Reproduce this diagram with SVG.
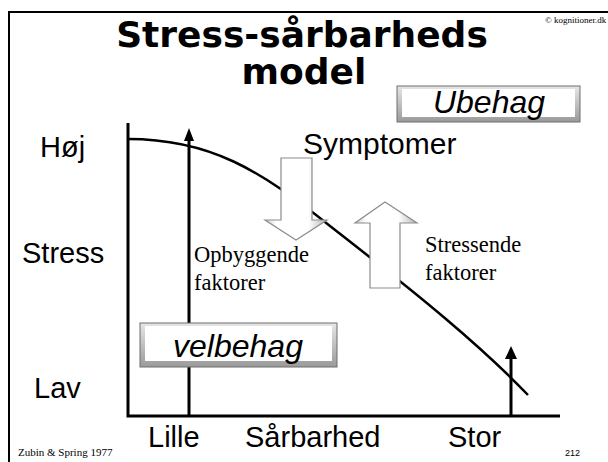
<svg xmlns="http://www.w3.org/2000/svg" width="608" height="462" viewBox="0 0 608 462">
<defs>
<style>
.sans{font-family:"Liberation Sans",Arial,sans-serif;fill:#000}
.serif{font-family:"Liberation Serif","Times New Roman",serif;fill:#000}
.title{font-family:"DejaVu Sans",Verdana,sans-serif;font-weight:bold;font-size:36px;text-anchor:middle}
.lbl{font-size:29px}
.ax{stroke:#000;stroke-width:3;fill:none}
.hollow{stroke:#8c8c8c;stroke-width:1.2;fill:url(#hg)}
</style>
<linearGradient id="hg" x1="0" y1="0" x2="1" y2="0">
<stop offset="0" stop-color="#cfcfcf"/>
<stop offset="0.18" stop-color="#ffffff"/>
<stop offset="0.7" stop-color="#ffffff"/>
<stop offset="1" stop-color="#b5b5b5"/>
</linearGradient>
<linearGradient id="bev" x1="0" y1="0" x2="0" y2="1">
<stop offset="0" stop-color="#e6e6e6"/>
<stop offset="1" stop-color="#9a9a9a"/>
</linearGradient>
</defs>
<rect width="608" height="462" fill="#fff"/>
<g id="frame">
<path d="M8,12 H608 M9,11 V462" stroke="#000" stroke-width="2" fill="none"/>
</g>
<g id="title">
<text class="title" x="302" y="47">Stress-sårbarheds</text>
<text class="title" x="304" y="84">model</text>
</g>
<text class="serif" x="545" y="23" font-size="9">© kognitioner.dk</text>
<g id="ubehag">
<rect x="397" y="86" width="183" height="36" fill="url(#bev)" stroke="#6f6f6f" stroke-width="1"/>
<rect x="402" y="89" width="173" height="28" fill="#fff"/>
<text class="sans" x="489" y="113" font-size="32" font-style="italic" text-anchor="middle">Ubehag</text>
</g>
<g id="connectors">
<path class="ax" d="M128,123 V416 H560"/>
<path d="M128,139 C210,139 260,170 330,226 C420,296 480,345 528,395" stroke="#000" stroke-width="2.5" fill="none"/>
<path d="M189,415 V138" stroke="#000" stroke-width="3" fill="none"/>
<polygon points="189,128 194,141 184,141" fill="#000"/>
<path d="M511,415 V356" stroke="#000" stroke-width="3" fill="none"/>
<polygon points="511,346 517,359 505,359" fill="#000"/>
</g>
<g id="down-arrow">
<polygon class="hollow" points="281,158 312,158 312,220 327,220 296,240 265,220 281,220"/>
</g>
<g id="up-arrow">
<polygon class="hollow" points="370,288 400,288 400,223 417,223 385,202 355,223 370,223"/>
</g>
<g id="velbehag">
<rect x="140" y="323" width="197" height="44" fill="url(#bev)" stroke="#6f6f6f" stroke-width="1"/>
<rect x="145" y="326" width="187" height="35" fill="#fff"/>
<text class="sans" x="238" y="357" font-size="32" font-style="italic" text-anchor="middle">velbehag</text>
</g>
<g id="labels">
<text class="sans lbl" x="40" y="157">Høj</text>
<text class="sans lbl" x="22" y="263">Stress</text>
<text class="sans lbl" x="34" y="398">Lav</text>
<text class="sans lbl" x="148" y="447">Lille</text>
<text class="sans lbl" x="245" y="447">Sårbarhed</text>
<text class="sans lbl" x="448" y="447">Stor</text>
<text class="sans" x="303" y="154" font-size="30">Symptomer</text>
<text class="serif" x="194" y="262" font-size="22.5">Opbyggende</text>
<text class="serif" x="194" y="290" font-size="22.5">faktorer</text>
<text class="serif" x="425" y="252" font-size="22.5">Stressende</text>
<text class="serif" x="425" y="280" font-size="22.5">faktorer</text>
<text class="serif" x="18" y="456" font-size="11">Zubin &amp; Spring 1977</text>
<text class="sans" x="565" y="456" font-size="9">212</text>
</g>
</svg>
